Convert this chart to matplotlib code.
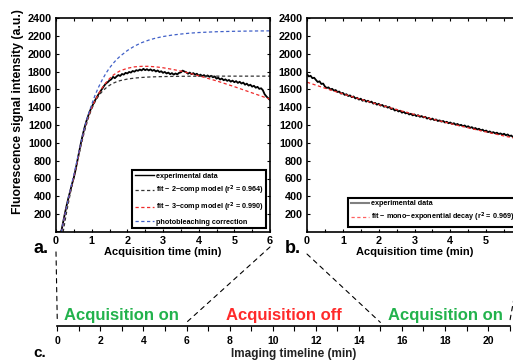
import numpy as np
import matplotlib
matplotlib.use("Agg")
import matplotlib.pyplot as plt
from matplotlib.lines import Line2D
from matplotlib.patches import ConnectionPatch
from matplotlib.ticker import MultipleLocator

plt.rcParams['font.family'] = ['Liberation Sans', 'DejaVu Sans']
plt.rcParams['font.weight'] = 'bold'

# ---------------- data ----------------
time_a = np.round(np.arange(0, 6.001, 0.05), 2)
exp_a = [0, 0, 0, 10, 110, 210, 300, 385, 460, 540,
         610, 700, 800, 900, 1000, 1090, 1170, 1240, 1300, 1355,
         1400, 1440, 1480, 1515, 1550, 1580, 1610, 1640, 1665, 1680,
         1700, 1712, 1740, 1725, 1745, 1760, 1750, 1772, 1765, 1785,
         1778, 1795, 1788, 1806, 1798, 1815, 1808, 1822, 1812, 1830,
         1815, 1826, 1812, 1824, 1808, 1818, 1800, 1812, 1794, 1803,
         1785, 1795, 1778, 1788, 1770, 1782, 1765, 1778, 1768, 1785,
         1790, 1810, 1800, 1792, 1775, 1788, 1770, 1782, 1765, 1775,
         1752, 1765, 1748, 1760, 1742, 1756, 1740, 1752, 1735, 1745,
         1720, 1730, 1710, 1722, 1702, 1712, 1695, 1705, 1686, 1698,
         1680, 1692, 1672, 1685, 1665, 1676, 1652, 1664, 1642, 1652,
         1630, 1640, 1618, 1628, 1605, 1612, 1590, 1545, 1520, 1500,
         1480]

fit_time_a = [0.15, 0.2, 0.3, 0.4, 0.5, 0.6, 0.7, 0.8, 0.9, 1.0, 1.1, 1.2, 1.3,
              1.4, 1.5, 1.6, 1.7, 1.8, 2.0, 2.2, 2.4, 2.6, 2.8, 3.0, 3.25, 3.5,
              3.75, 4.0, 4.5, 5.0, 5.5, 6.0]
fit_2comp = [np.nan, 0, 230, 430, 610, 790, 970, 1130, 1270, 1380, 1465, 1530,
             1578, 1615, 1645, 1668, 1685, 1698, 1715, 1726, 1733, 1738, 1741,
             1743, 1745, 1746, 1747, 1747, 1748, 1748, 1748, 1748]
fit_3comp = [0, 100, 290, 460, 620, 800, 990, 1160, 1290, 1395, 1480, 1555,
             1620, 1675, 1720, 1758, 1785, 1808, 1836, 1852, 1858, 1858, 1852,
             1842, 1825, 1805, 1780, 1752, 1695, 1630, 1560, 1490]
photobleach = [0, 100, 290, 470, 640, 820, 1000, 1170, 1310, 1430, 1540, 1630,
               1710, 1780, 1840, 1890, 1935, 1972, 2035, 2085, 2123, 2152, 2175,
               2192, 2208, 2220, 2230, 2237, 2246, 2251, 2254, 2256]

time_b = np.round(np.arange(0, 6.001, 0.05), 2)
exp_b = [1770, 1745, 1752, 1725, 1730, 1705, 1682, 1690, 1660, 1665,
         1632, 1615, 1622, 1598, 1606, 1586, 1592, 1570, 1575, 1552,
         1560, 1538, 1545, 1525, 1532, 1512, 1520, 1498, 1505, 1485,
         1495, 1472, 1482, 1462, 1472, 1455, 1462, 1440, 1448, 1428,
         1438, 1418, 1425, 1405, 1412, 1395, 1402, 1378, 1385, 1362,
         1372, 1352, 1360, 1338, 1348, 1330, 1338, 1318, 1326, 1308,
         1318, 1300, 1310, 1292, 1300, 1285, 1292, 1272, 1280, 1262,
         1272, 1255, 1262, 1245, 1252, 1238, 1245, 1228, 1236, 1220,
         1228, 1212, 1220, 1203, 1212, 1195, 1202, 1186, 1195, 1178,
         1186, 1168, 1176, 1158, 1166, 1150, 1158, 1140, 1148, 1130,
         1138, 1120, 1128, 1112, 1120, 1106, 1114, 1098, 1106, 1092,
         1102, 1085, 1094, 1076, 1082, 1064, 1070, 1055, 1062, 1045,
         1052]
fit_time_b = [0, 0.5, 1, 1.5, 2, 2.5, 3, 3.5, 4, 4.5, 5, 5.5, 6]
fit_mono = [1680, 1613, 1549, 1488, 1429, 1373, 1318, 1266, 1216, 1168, 1122, 1077, 1035]

y_ticks = list(range(200, 2401, 200))
timeline_ticks = list(range(0, 22))
timeline_labels = [str(v) if v % 2 == 0 else '' for v in timeline_ticks]
phase_labels = ['Acquisition on', 'Acquisition off', 'Acquisition on']
phase_centers = [3, 10.5, 18]
phase_colors = ['#22b24c', '#ff2a2a', '#22b24c']

# ---------------- figure ----------------
W, H = 513, 360
fig = plt.figure(figsize=(W / 100, H / 100), dpi=100)

ax_a = fig.add_axes([56 / W, 1 - 232 / H, 214 / W, 214 / H])
ax_b = fig.add_axes([307 / W, 1 - 232 / H, 215 / W, 214 / H])

dash = (0, (2.6, 2.0))
for ax in (ax_a, ax_b):
    ax.set_xlim(0, 6)
    ax.set_ylim(0, 2400)
    ax.set_yticks(y_ticks)
    ax.set_xticks(range(0, 7))
    ax.xaxis.set_minor_locator(MultipleLocator(0.5))
    ax.tick_params(which='both', direction='in', top=True, right=True,
                   length=2.5, width=0.8, labelsize=7.8, pad=3)
    for s in ax.spines.values():
        s.set_linewidth(1.2)

ax_a.plot(time_a, exp_a, color='k', lw=1.3)
ax_a.plot(fit_time_a, fit_2comp, color='#333333', lw=0.9, ls=dash)
ax_a.plot(fit_time_a, fit_3comp, color='#ee2a2a', lw=0.9, ls=dash)
ax_a.plot(fit_time_a, photobleach, color='#4060c8', lw=0.9, ls=dash)

handles_a = [Line2D([], [], color='k', lw=1.0),
             Line2D([], [], color='#333333', lw=0.9, ls=dash),
             Line2D([], [], color='#ee2a2a', lw=0.9, ls=dash),
             Line2D([], [], color='#4060c8', lw=0.9, ls=dash)]
labels_a = ['experimental data',
            'fit \u2212 2\u2212comp model (r$^\\mathbf{2}$ = 0.964)',
            'fit \u2212 3\u2212comp model (r$^\\mathbf{2}$ = 0.990)',
            'photobleaching correction']
leg_a = ax_a.legend(handles_a, labels_a, loc='lower right', fontsize=5.2,
                    fancybox=False, edgecolor='k', framealpha=1,
                    borderaxespad=0.55, handlelength=2.6, handletextpad=0.3,
                    labelspacing=0.55, borderpad=0.35)
leg_a.get_frame().set_linewidth(1.5)

ax_b.plot(time_b, exp_b, color='k', lw=1.3)
ax_b.plot(fit_time_b, fit_mono, color='#ee2a2a', lw=0.9, ls=dash)
handles_b = [Line2D([], [], color='#808080', lw=1.5),
             Line2D([], [], color='#ff6060', lw=0.9, ls=dash)]
labels_b = ['experimental data',
            'fit \u2212 mono\u2212exponential decay (r$^\\mathbf{2}$ = 0.969)']
leg_b = ax_b.legend(handles_b, labels_b, loc='lower left',
                    bbox_to_anchor=(41 / 215, 5 / 214), fontsize=5.2,
                    fancybox=False, edgecolor='k', framealpha=1,
                    borderaxespad=0, handlelength=2.6, handletextpad=0.3,
                    labelspacing=0.55, borderpad=0.35)
leg_b.get_frame().set_linewidth(1.5)

# axis labels
fig.text(163 / W, 1 - 252 / H, 'Acquisition time (min)', ha='center',
         va='center', fontsize=8, fontweight='bold')
fig.text(414.5 / W, 1 - 252 / H, 'Acquisition time (min)', ha='center',
         va='center', fontsize=8, fontweight='bold')
fig.text(18 / W, 1 - 112 / H, 'Fluorescence signal intensity (a.u.)',
         ha='center', va='center', rotation=90, fontsize=8.8, fontweight='bold')
fig.text(33 / W, 1 - 253 / H, 'a.', fontsize=13, fontweight='bold')
fig.text(285 / W, 1 - 253 / H, 'b.', fontsize=13, fontweight='bold')
fig.text(33 / W, 1 - 357 / H, 'c.', fontsize=11, fontweight='bold')

# timeline
ax_c = fig.add_axes([57.3 / W, 1 - 326 / H, (509.6 - 57.3) / W, 18 / H])
ax_c.set_xlim(0, 21)
ax_c.set_ylim(0, 1)
for k in ('top', 'left', 'right'):
    ax_c.spines[k].set_visible(False)
ax_c.spines['bottom'].set_linewidth(1.2)
ax_c.set_yticks([])
ax_c.set_xticks(timeline_ticks)
ax_c.set_xticklabels(timeline_labels)
ax_c.tick_params(axis='x', direction='out', length=3.5, width=0.8,
                 labelsize=7.5, pad=3.5)
ax_c.patch.set_visible(False)
for lab, cx, col in zip(phase_labels, phase_centers, phase_colors):
    ax_c.text(cx, 0.33, lab, color=col, ha='center', va='baseline',
              fontsize=12, fontweight='bold')
fig.text(294 / W, 1 - 354 / H, 'Imaging timeline (min)', ha='center',
         va='center', fontsize=8.5, fontweight='bold', color='#222222')

# dashed connectors
conn = [(ax_a, (0, -0.093), 0),
        (ax_a, (1, -0.07), 6),
        (ax_b, (0, -0.103), 15),
        (ax_b, (1, -0.103), 21)]
for axA, xyA, tx in conn:
    con = ConnectionPatch(xyA=xyA, coordsA='axes fraction', axesA=axA,
                          xyB=(tx, 0.2), coordsB='data', axesB=ax_c,
                          color='k', lw=0.8, linestyle=(0, (4, 4)))
    fig.add_artist(con)

fig.savefig('out.png', dpi=100)
